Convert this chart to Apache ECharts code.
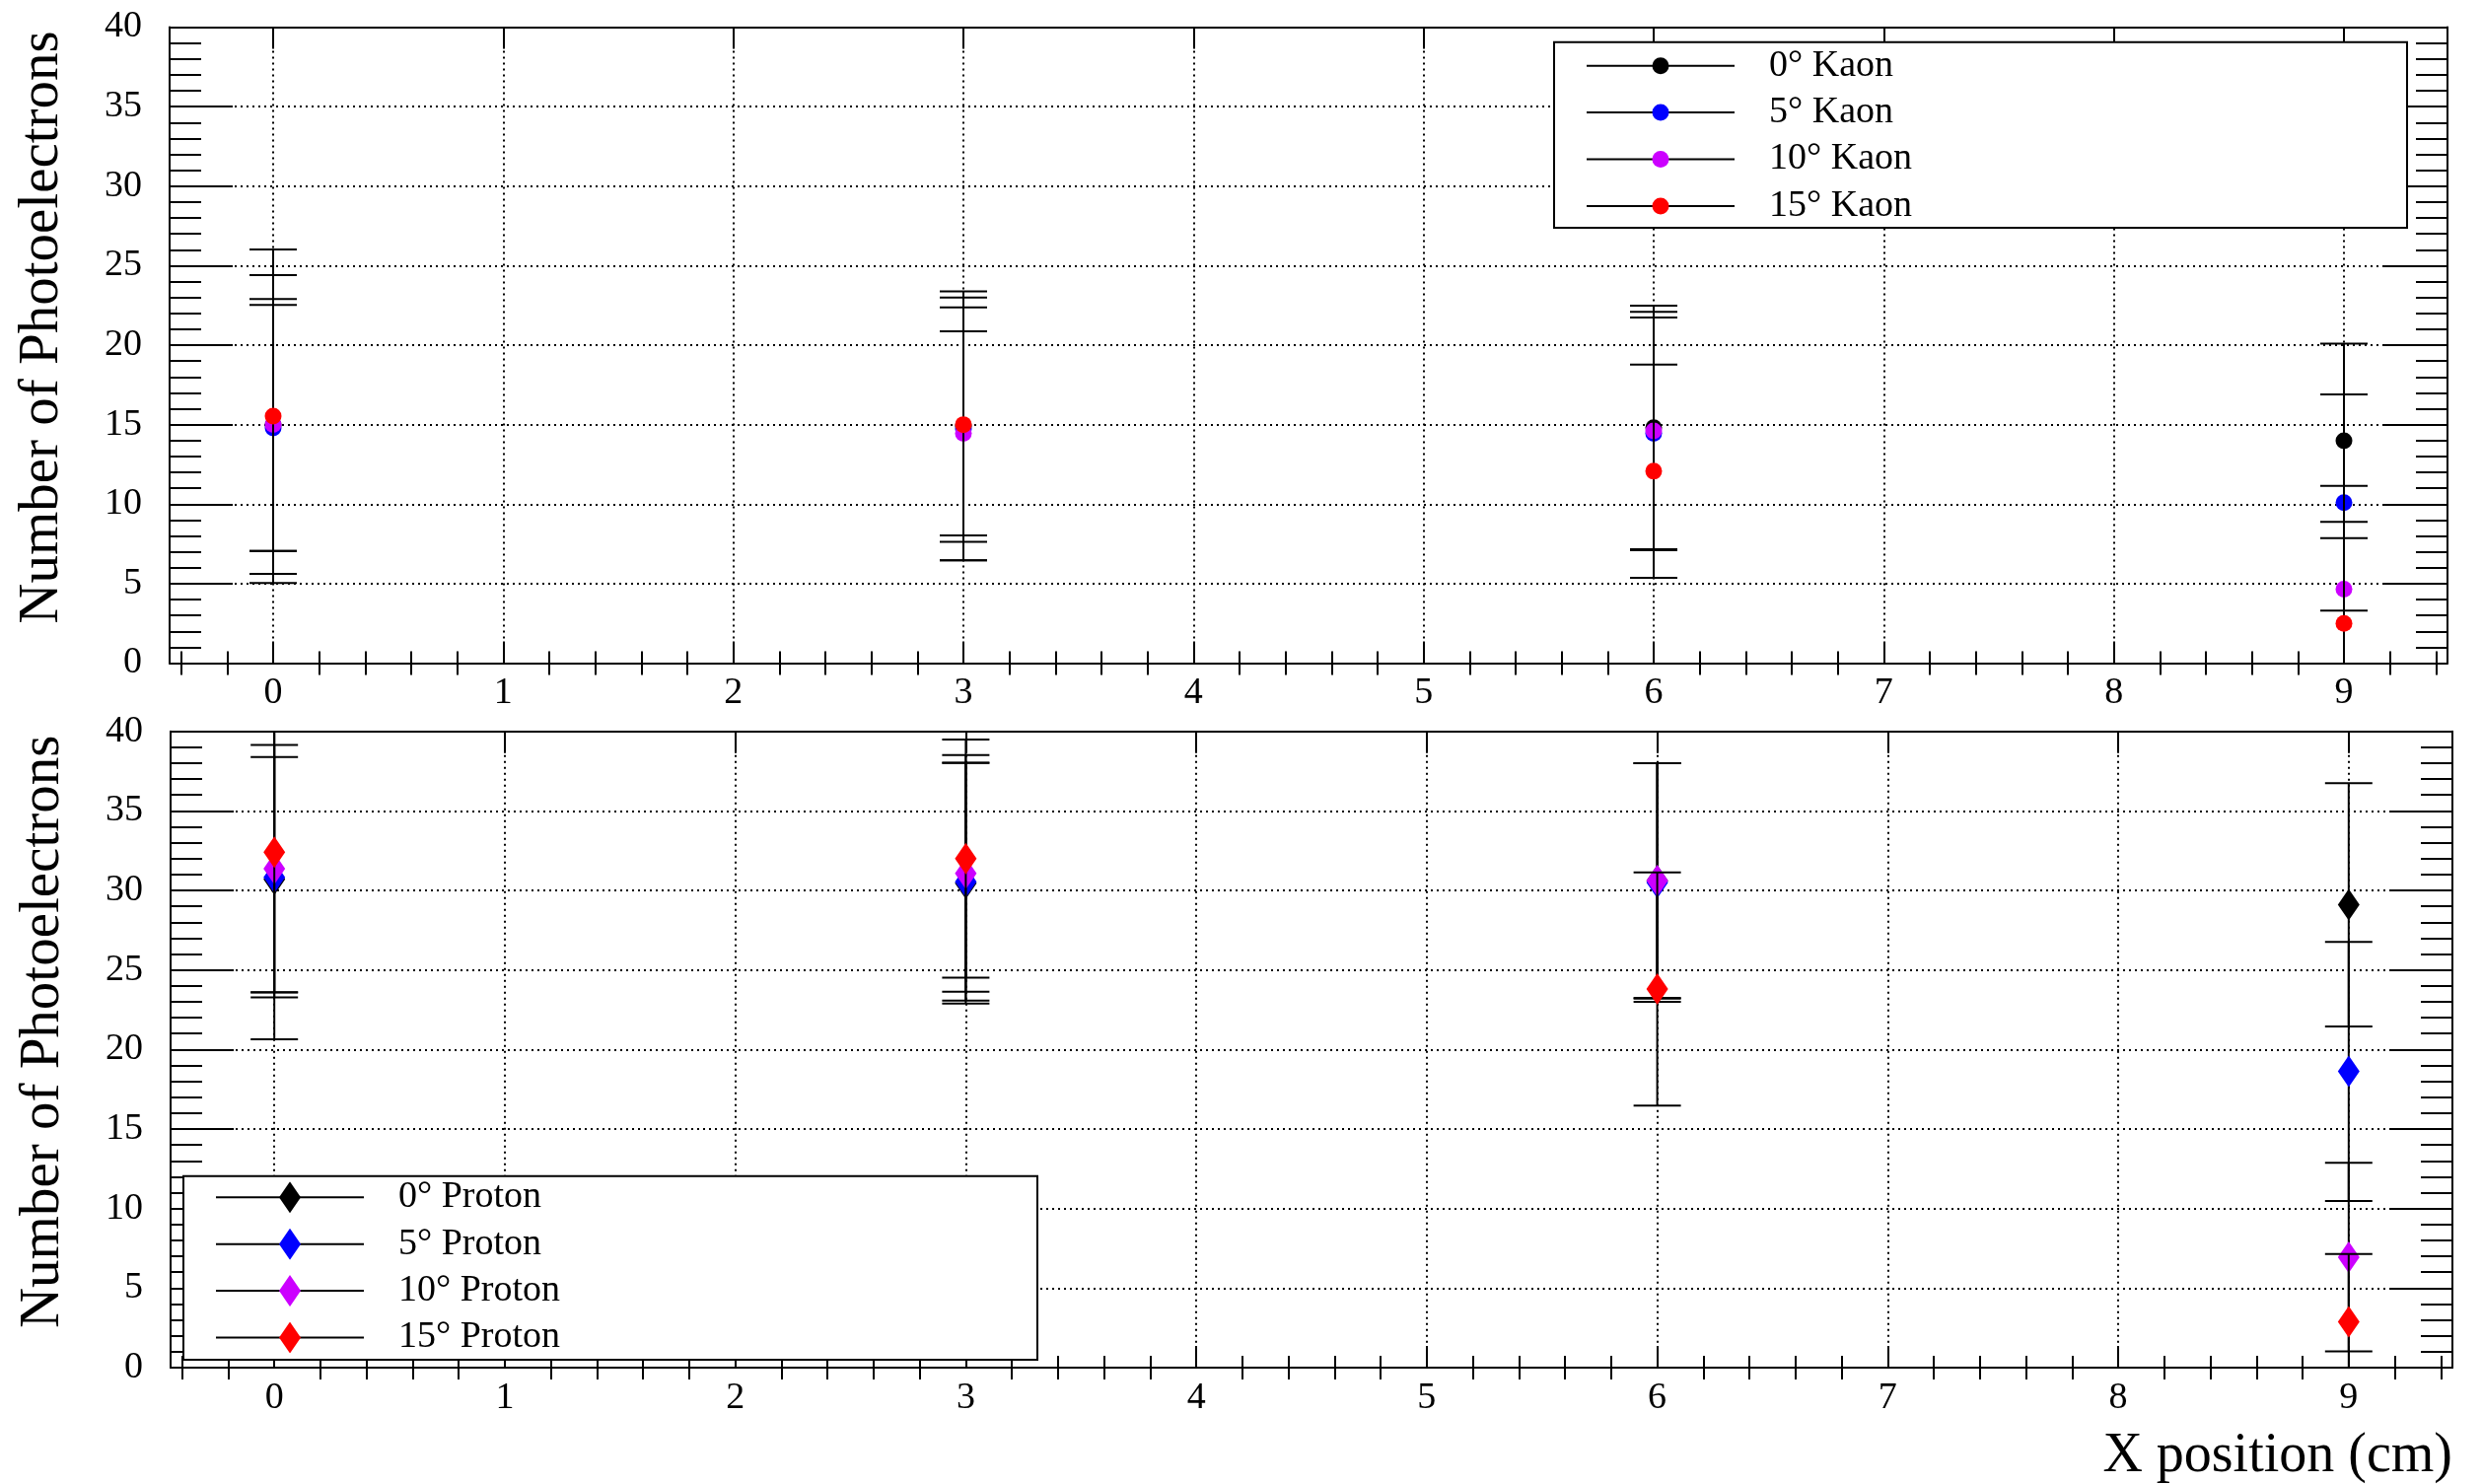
<!DOCTYPE html>
<html>
<head>
<meta charset="utf-8">
<script src="https://cdn.jsdelivr.net/npm/echarts@6/dist/echarts.min.js"></script>
<style>
html,body{margin:0;padding:0;background:#fff;}
#chart{width:2517px;height:1505px;}
</style>
</head>
<body>
<div id="chart"></div>
<script>
// ---------------- data ----------------
const xPositions = [0, 3, 6, 9];
const angleLabels = ['0°', '5°', '10°', '15°'];
const seriesColors = ['#000000', '#0000ff', '#cc00ff', '#ff0000'];

// Kaon (top panel): mean photoelectrons and symmetric error
const kaon0 = [14.98, 14.92, 14.80, 13.98];
const kaon0Err = [7.92, 8.46, 7.68, 6.12];
const kaon5 = [14.79, 14.73, 14.45, 10.10];
const kaon5Err = [7.73, 8.27, 7.28, 6.80];
const kaon10 = [15.01, 14.45, 14.60, 4.65];
const kaon10Err = [9.39, 6.42, 7.50, 6.49];
const kaon15 = [15.53, 15.00, 12.07, 2.50];
const kaon15Err = [10.49, 7.37, 6.70, 6.38];

// Proton (bottom panel)
const proton0 = [30.70, 30.45, 30.60, 29.10];
const proton0Err = [10.06, 7.56, 7.40, 7.65];
const proton5 = [30.83, 30.55, 30.50, 18.62];
const proton5Err = [7.55, 7.48, 7.50, 8.14];
const proton10 = [31.37, 31.07, 30.62, 6.95];
const proton10Err = [7.78, 7.44, 7.38, 5.93];
const proton15 = [32.40, 32.00, 23.80, 2.88];
const proton15Err = [8.80, 7.49, 7.33, 4.26];

const xTickValues = [0, 1, 2, 3, 4, 5, 6, 7, 8, 9];
const xRange = [-0.45, 9.45];
const yRange = [0, 40];
const yTickStep = 5;

const yTitle = 'Number of Photoelectrons';
const xTitle = 'X position (cm)';

// ---------------- styling helpers ----------------
const FONT = "'Liberation Serif', 'Times New Roman', serif";
const minorXTicks = [];
for (let v = -0.4; v < 9.45; v += 0.2) {
  const r = Math.round(v * 10) / 10;
  if (Math.abs(r - Math.round(r)) > 1e-6) minorXTicks.push(r);
}
const gridDash = { color: '#000', width: 2, type: [2, 4] };

const gridDefs = [
  { left: 172, top: 27.5, width: 2310, height: 645 },
  { left: 173, top: 741.7, width: 2314, height: 646 }
];

function xAxesFor(gi, withTitle) {
  const base = {
    gridIndex: gi, type: 'value', min: xRange[0], max: xRange[1],
    axisLine: { show: false }, axisLabel: { show: false },
    splitLine: { show: false }, minorTick: { show: false }
  };
  const mainBottom = Object.assign({}, base, {
    position: 'bottom',
    axisLine: { show: true, onZero: false, lineStyle: { color: '#000', width: 2 } },
    axisTick: { show: true, inside: true, length: 22, customValues: xTickValues, lineStyle: { color: '#000', width: 2 } },
    axisLabel: { show: true, customValues: xTickValues, fontSize: 38, fontFamily: FONT, color: '#000', margin: 12 },
    splitLine: { show: true, lineStyle: gridDash }
  });
  if (withTitle) {
    Object.assign(mainBottom, {
      name: xTitle, nameLocation: 'end', nameGap: 0,
      nameTextStyle: { fontSize: 56, fontFamily: FONT, color: '#000', align: 'right', verticalAlign: 'top', padding: [62, 0, 0, 0] }
    });
  }
  const minorBottom = Object.assign({}, base, {
    position: 'bottom',
    axisTick: { show: true, inside: true, length: 12, customValues: minorXTicks, lineStyle: { color: '#000', width: 2 } }
  });
  const mainTop = Object.assign({}, base, {
    position: 'top',
    axisLine: { show: true, onZero: false, lineStyle: { color: '#000', width: 2 } },
    axisTick: { show: true, inside: true, length: 22, customValues: xTickValues, lineStyle: { color: '#000', width: 2 } }
  });
  const minorTop = Object.assign({}, base, {
    position: 'top',
    axisTick: { show: true, inside: true, length: 12, customValues: minorXTicks, lineStyle: { color: '#000', width: 2 } }
  });
  return [mainBottom, minorBottom, mainTop, minorTop];
}

function yAxesFor(gi) {
  const left = {
    gridIndex: gi, type: 'value', position: 'left', min: yRange[0], max: yRange[1], interval: yTickStep,
    name: yTitle, nameLocation: 'middle', nameGap: 100,
    nameTextStyle: { fontSize: 57, fontFamily: FONT, color: '#000', padding: [0, 0, 0, 36] },
    axisLine: { show: true, onZero: false, lineStyle: { color: '#000', width: 2 } },
    axisTick: { show: true, inside: true, length: 64, lineStyle: { color: '#000', width: 2 } },
    minorTick: { show: true, splitNumber: 5, length: 32, lineStyle: { color: '#000', width: 2 } },
    axisLabel: { show: true, fontSize: 38, fontFamily: FONT, color: '#000', margin: 28 },
    splitLine: { show: true, lineStyle: gridDash }
  };
  const right = {
    gridIndex: gi, type: 'value', position: 'right', min: yRange[0], max: yRange[1], interval: yTickStep,
    axisLine: { show: true, onZero: false, lineStyle: { color: '#000', width: 2 } },
    axisTick: { show: true, inside: true, length: 64, lineStyle: { color: '#000', width: 2 } },
    minorTick: { show: true, splitNumber: 5, length: 32, lineStyle: { color: '#000', width: 2 } },
    axisLabel: { show: false },
    splitLine: { show: false }
  };
  return [left, right];
}

function makeRender(shape, color) {
  return function (params, api) {
    const x = api.value(0), y = api.value(1), e = api.value(2);
    const p = api.coord([x, y]);
    const pt = api.coord([x, y + e]);
    const pb = api.coord([x, y - e]);
    const cs = params.coordSys;
    const top = cs.y, bottom = cs.y + cs.height;
    const capHalf = 24;
    const st = { stroke: '#000', lineWidth: 2 };
    const kids = [];
    kids.push({ type: 'line', shape: { x1: p[0], y1: Math.max(pt[1], top), x2: p[0], y2: Math.min(pb[1], bottom) }, style: st });
    if (pt[1] >= top - 0.5) kids.push({ type: 'line', shape: { x1: p[0] - capHalf, y1: pt[1], x2: p[0] + capHalf, y2: pt[1] }, style: st });
    if (pb[1] <= bottom + 0.5) kids.push({ type: 'line', shape: { x1: p[0] - capHalf, y1: pb[1], x2: p[0] + capHalf, y2: pb[1] }, style: st });
    if (shape === 'circle') {
      kids.push({ type: 'circle', shape: { cx: p[0], cy: p[1], r: 8.5 }, style: { fill: color } });
    } else {
      kids.push({ type: 'polygon', shape: { points: [[p[0], p[1] - 16], [p[0] + 11, p[1]], [p[0], p[1] + 16], [p[0] - 11, p[1]]] }, style: { fill: color } });
    }
    return { type: 'group', children: kids };
  };
}

function iconFor(shape, color) {
  let mk;
  if (shape === 'circle') mk = "<circle cx='75' cy='16' r='8.5' fill='" + color + "'/>";
  else mk = "<polygon points='75,0 86,16 75,32 64,16' fill='" + color + "'/>";
  const svg = "<svg xmlns='http://www.w3.org/2000/svg' width='180' height='32' viewBox='0 0 180 32'>" +
    "<line x1='0' y1='16' x2='150' y2='16' stroke='black' stroke-width='2'/>" + mk + "</svg>";
  return 'image://data:image/svg+xml;charset=utf-8,' + encodeURIComponent(svg);
}

const kaonVals = [kaon0, kaon5, kaon10, kaon15];
const kaonErrs = [kaon0Err, kaon5Err, kaon10Err, kaon15Err];
const protonVals = [proton0, proton5, proton10, proton15];
const protonErrs = [proton0Err, proton5Err, proton10Err, proton15Err];

const series = [];
const kaonLegend = [], protonLegend = [];
for (let i = 0; i < 4; i++) {
  const nameK = angleLabels[i] + ' Kaon';
  series.push({
    name: nameK, type: 'custom', coordinateSystem: 'cartesian2d',
    xAxisIndex: 0, yAxisIndex: 0, clip: true,
    renderItem: makeRender('circle', seriesColors[i]),
    itemStyle: { color: seriesColors[i] },
    data: xPositions.map((x, j) => [x, kaonVals[i][j], kaonErrs[i][j]])
  });
  kaonLegend.push({ name: nameK, icon: iconFor('circle', seriesColors[i]) });
}
for (let i = 0; i < 4; i++) {
  const nameP = angleLabels[i] + ' Proton';
  series.push({
    name: nameP, type: 'custom', coordinateSystem: 'cartesian2d',
    xAxisIndex: 4, yAxisIndex: 2, clip: true,
    renderItem: makeRender('diamond', seriesColors[i]),
    itemStyle: { color: seriesColors[i] },
    data: xPositions.map((x, j) => [x, protonVals[i][j], protonErrs[i][j]])
  });
  protonLegend.push({ name: nameP, icon: iconFor('diamond', seriesColors[i]) });
}

const legendCommon = {
  orient: 'vertical', itemWidth: 180, itemHeight: 32, itemGap: 9.4, padding: 0,
  selectedMode: false, z: 20,
  textStyle: { fontSize: 38, fontFamily: FONT, color: '#000' }
};

const option = {
  backgroundColor: '#ffffff',
  animation: false,
  grid: gridDefs.map(g => Object.assign({ containLabel: false }, g)),
  xAxis: xAxesFor(0, false).concat(xAxesFor(1, true)),
  yAxis: yAxesFor(0).concat(yAxesFor(1)),
  legend: [
    Object.assign({}, legendCommon, { left: 1609, top: 47.7, data: kaonLegend }),
    Object.assign({}, legendCommon, { left: 219, top: 1195.3, data: protonLegend })
  ],
  graphic: [
    { type: 'rect', z: 15, shape: { x: 1576, y: 42.7, width: 865, height: 188.3 }, style: { fill: '#fff', stroke: '#000', lineWidth: 2 } },
    { type: 'rect', z: 15, shape: { x: 186, y: 1192.7, width: 866, height: 186.3 }, style: { fill: '#fff', stroke: '#000', lineWidth: 2 } }
  ],
  series: series
};

const chart = echarts.init(document.getElementById('chart'), null, { renderer: 'canvas', width: 2517, height: 1505 });
chart.setOption(option);
</script>
</body>
</html>
